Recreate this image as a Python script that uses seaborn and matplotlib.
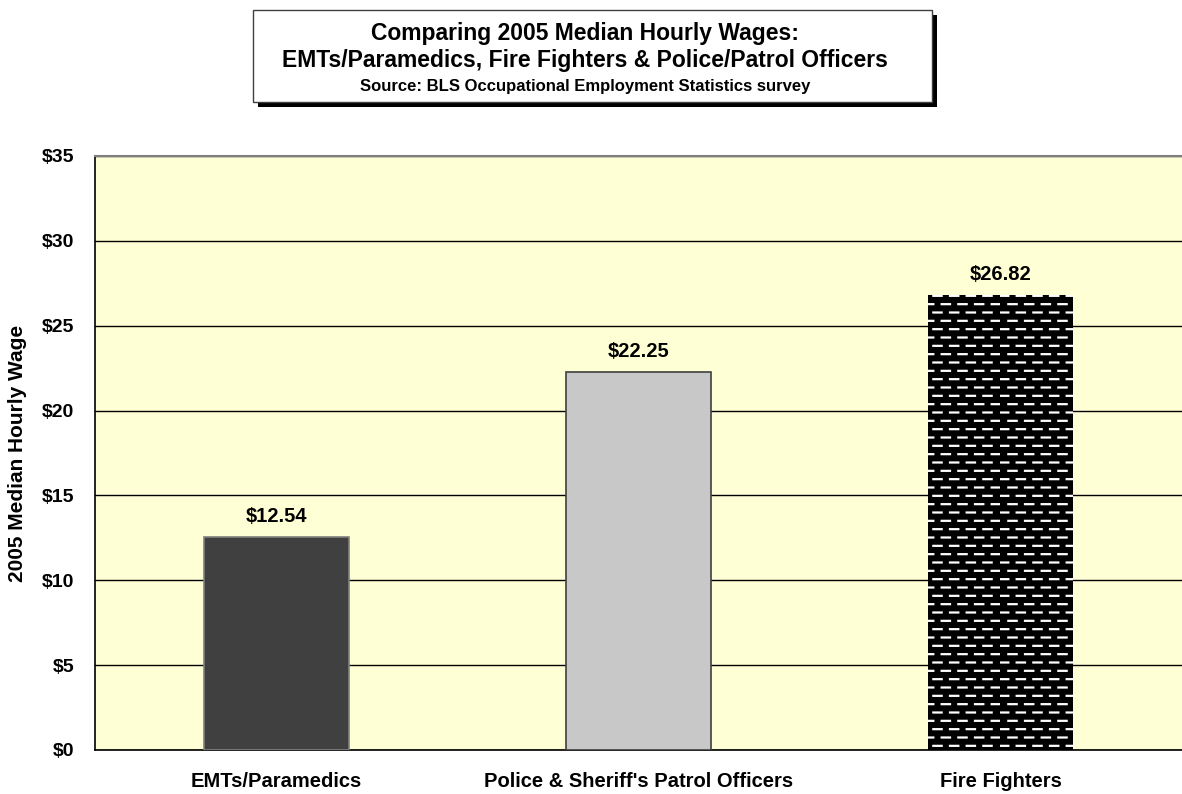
import numpy as np
import pandas as pd
import matplotlib
matplotlib.use("Agg")
import matplotlib.pyplot as plt
import matplotlib.hatch as mhatch
from matplotlib.patches import Rectangle
from matplotlib.path import Path
import seaborn as sns

# --- Data ---
occupations = ["EMTs/Paramedics", "Police & Sheriff's Patrol Officers", "Fire Fighters"]
median_wage = [12.54, 22.25, 26.82]
bar_colors = ["#404040", "#C8C8C8", "#000000"]
y_ticks = [0, 5, 10, 15, 20, 25, 30, 35]

df = pd.DataFrame({"occupation": occupations, "wage": median_wage})


# --- brick-like dashed hatch (replaces the plain '-' hatch) ---
class DashHatch(mhatch.HatchPatternBase):
    def __init__(self, hatch, density):
        self.rows = hatch.count('-') * density
        self.cols = density
        self.num_vertices = self.rows * self.cols * 2

    def set_vertices_and_codes(self, vertices, codes):
        p = 1.0 / self.cols
        pts = []
        for r in range(self.rows):
            y = (r + 0.5) / self.rows
            shift = 0.0 if r % 2 == 0 else p / 2
            for k in range(self.cols):
                x0 = k * p + shift
                pts.append((x0, y))
                pts.append((x0 + p / 2, y))
        vertices[:] = pts
        codes[0::2] = Path.MOVETO
        codes[1::2] = Path.LINETO


mhatch._hatch_types = [DashHatch if t is mhatch.HorizontalHatch else t
                       for t in mhatch._hatch_types]

sns.set_style("white")
plt.rcParams['font.family'] = ['Liberation Sans', 'DejaVu Sans']
plt.rcParams['font.weight'] = 'bold'
plt.rcParams['hatch.linewidth'] = 1.6
for key in ['text.color', 'axes.labelcolor', 'xtick.color', 'ytick.color']:
    plt.rcParams[key] = 'black'

W, H = 1182, 794
fig = plt.figure(figsize=(W / 100, H / 100), dpi=100)
left, right, top, bottom = 95, 1182, 156, 750
ax = fig.add_axes([left / W, (H - bottom) / H, (right - left) / W, (bottom - top) / H])

sns.barplot(data=df, x="occupation", y="wage", hue="occupation", palette=bar_colors,
            legend=False, width=0.4, saturation=1, ax=ax, zorder=3)

# bar styling
edges = ["#808080", "#404040", "white"]
for bar, ec in zip(ax.patches, edges):
    bar.set_edgecolor(ec)
    bar.set_linewidth(1.2)
ax.patches[2].set_hatch('--')
ax.patches[2].set_linewidth(0)

for cont, v in zip(ax.containers, median_wage):
    ax.bar_label(cont, labels=[f"${v:.2f}"], padding=8, fontsize=14.5, fontweight='bold',
                 color='black')

ax.set_facecolor("#FFFFD5")
ax.set_ylim(0, 35)
ax.set_xlim(-0.5, -0.5 + (right - left) / 364)
ax.set_yticks(y_ticks)
ax.set_yticklabels([f"${t}" for t in y_ticks], fontsize=14, fontweight='bold')
ax.yaxis.grid(True, color="black", linewidth=1.0)
ax.set_axisbelow(True)

# category boundaries as ticks, names in between
ax.set_xticks([-0.5, 0.5, 1.5, 2.5])
ax.set_xticklabels([])
ax.set_xticks([0, 1, 2], minor=True)
ax.set_xticklabels(occupations, minor=True, fontsize=14.5, fontweight='bold')
ax.tick_params(axis='x', which='minor', length=0, pad=16)
ax.tick_params(axis='x', which='major', length=8, width=1, color='black', direction='out')
ax.tick_params(axis='y', length=8, width=1, color='black', direction='out', pad=7)
ax.set_xlabel("")
ax.set_ylabel("2005 Median Hourly Wage", fontsize=15, fontweight='bold', va='center')
ax.yaxis.set_label_coords((18 - left) / (right - left), 0.5)

for s in ["left", "bottom"]:
    ax.spines[s].set_color("black")
    ax.spines[s].set_linewidth(1.2)
ax.spines["top"].set_color("#808080")
ax.spines["top"].set_linewidth(1.5)
ax.spines["right"].set_visible(False)

# --- title box with shadow ---
bx0, bx1, by0, by1 = 253, 932, 10, 102
fig.patches.append(Rectangle(((bx0 + 5) / W, (H - by1 - 5) / H), (bx1 - bx0) / W, (by1 - by0) / H,
                             transform=fig.transFigure, facecolor="black", edgecolor="none", zorder=1))
fig.patches.append(Rectangle((bx0 / W, (H - by1) / H), (bx1 - bx0) / W, (by1 - by0) / H,
                             transform=fig.transFigure, facecolor="white", edgecolor="#404040",
                             linewidth=1, zorder=2))
cx = 585 / W
fig.text(cx, 1 - 40 / H, "Comparing 2005 Median Hourly Wages:", ha='center', va='baseline',
         fontsize=16.5, fontweight='bold', zorder=3)
fig.text(cx, 1 - 67 / H, "EMTs/Paramedics, Fire Fighters & Police/Patrol Officers", ha='center',
         va='baseline', fontsize=16.5, fontweight='bold', zorder=3)
fig.text(cx, 1 - 91 / H, "Source: BLS Occupational Employment Statistics survey", ha='center',
         va='baseline', fontsize=12, fontweight='bold', zorder=3)

fig.savefig("out.png", dpi=100)
